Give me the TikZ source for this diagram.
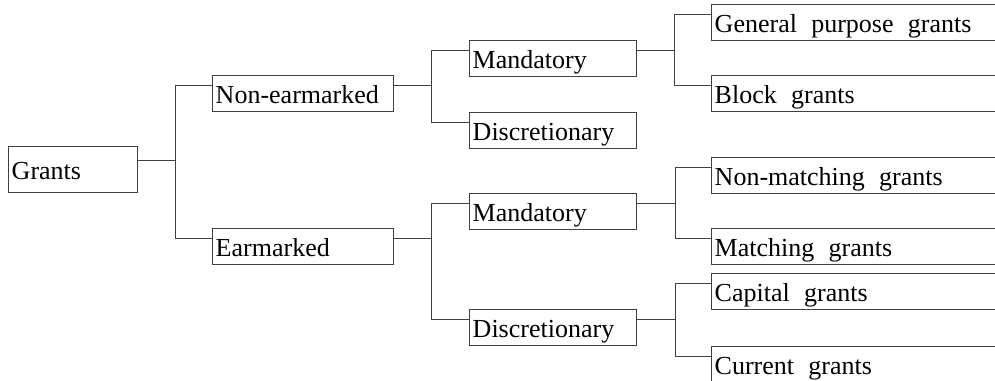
\documentclass[tikz,border=0pt]{standalone}
\usepackage{fontspec}
\newfontfamily\timesfont{Liberation Serif}
\newcommand\boxfont{\timesfont\fontsize{19.5}{22}\selectfont}
\usetikzlibrary{calc, positioning}

\begin{document}
\begin{tikzpicture}[x=0.75pt,y=-0.75pt,
  box/.style={draw=black!75, line width=0.6pt, anchor=north west,
    inner xsep=2.5pt, inner ysep=0pt, align=left,
    text height=21pt, text depth=6pt, font=\boxfont},
  leaf/.style={box, text width=212.5pt,
    execute at begin node={\spaceskip=0.55em plus 0.1em\relax}},
  link/.style={draw=black!75, line width=0.6pt}]
\clip (0,0) rectangle (995,381);

% root
\node[box, text width=91.75pt, text height=24.75pt, text depth=9.75pt] (grants) at (8,146) {Grants};

% second level
\node[box, text width=130.75pt] (nonear) at (212,75) {Non-earmarked};
\node[box, text width=130.75pt] (ear) at (212,228) {Earmarked};

% third level
\node[box, text width=119.9pt] (mandA) at (469,40) {Mandatory};
\node[box, text width=119.9pt] (discA) at (469,112) {Discretionary};
\node[box, text width=120.5pt] (mandB) at (469,193) {Mandatory};
\node[box, text width=120.5pt] (discB) at (469,309) {Discretionary};

% leaves
\node[leaf] (general) at (711,4) {General purpose grants};
\node[leaf] (block) at (711,75) {Block grants};
\node[leaf] (nonmatch) at (711,157) {Non-matching grants};
\node[leaf] (match) at (711,228) {Matching grants};
\node[leaf] (capital) at (711,273) {Capital grants};
\node[leaf, text depth=5.25pt] (current) at (711,346) {Current grants};

% elbow connectors
\foreach \from/\tap/\to in {grants/10.5pt/nonear, grants/10.5pt/ear,
    nonear/7.5pt/mandA, nonear/7.5pt/discA,
    ear/7.5pt/mandB, ear/7.5pt/discB,
    mandA/7.5pt/general, mandA/7.5pt/block,
    mandB/7.5pt/nonmatch, mandB/7.5pt/match,
    discB/7.5pt/capital, discB/7.5pt/current}
  \draw[link] ([yshift=-\tap]\from.north east) -- ++(38,0) |- ([yshift=-7.5pt]\to.north west);
\end{tikzpicture}
\end{document}
